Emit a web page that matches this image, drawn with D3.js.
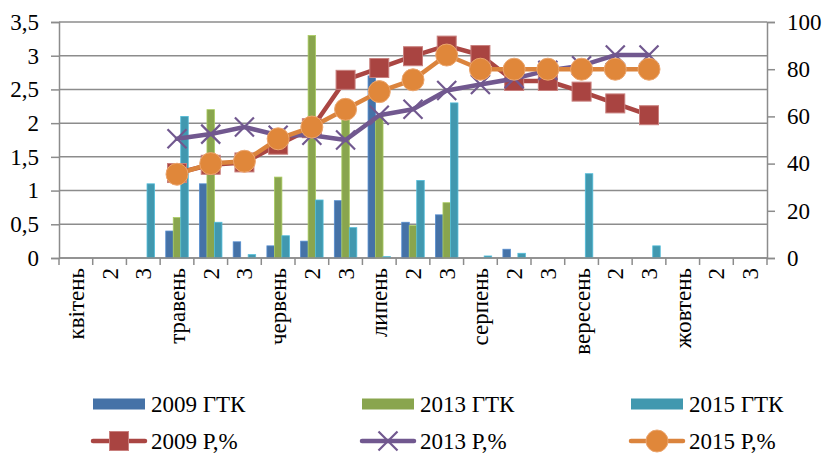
<!DOCTYPE html>
<html>
<head>
<meta charset="utf-8">
<script src="https://cdn.jsdelivr.net/npm/d3@7/dist/d3.min.js"></script>
<style>
  html, body { margin: 0; padding: 0; background: #fff; }
  svg { display: block; }
  text { font-family: "Liberation Serif", "Times New Roman", serif; fill: #000; }
</style>
</head>
<body>
<svg id="chart" width="826" height="453"></svg>
<script>
// Decade labels along the season (month name on the first decade)
const categories = ["квітень","2","3","травень","2","3","червень","2","3","липень","2","3",
                    "серпень","2","3","вересень","2","3","жовтень","2","3"];

// Hydrothermal coefficient (left axis)
const gtk2009 = [0,0,0, 0.4,1.1,0.24, 0.18,0.25,0.85, 2.7,0.53,0.64, 0,0.13,0, 0,0,0, 0,0,0];
const gtk2013 = [0,0,0, 0.6,2.2,0, 1.2,3.3,2.1, 2.1,0.48,0.82, 0,0,0, 0,0,0, 0,0,0];
const gtk2015 = [0,0,1.1, 2.1,0.53,0.05, 0.33,0.86,0.45, 0.02,1.15,2.3, 0.03,0.07,0, 1.25,0,0.18, 0,0,0];

// P, % (right axis)
const p2009 = [null,null,null, 36,39.5,40.5, 48,55,75.5, 80.5,85.5,90, 86,75,75, 70.5,65.5,60.5, null,null,null];
const p2013 = [null,null,null, 50.5,52.5,55.5, 52,52,50, 60.5,63,71, 73.5,76,79.5, 81.5,86,86, null,null,null];
const p2015 = [null,null,null, 35.5,40,41, 50.5,55.5,63, 70.5,75.5,86, 80,80,80, 80,80,80, null,null,null];

const leftTicks = [0,0.5,1,1.5,2,2.5,3,3.5];
const leftTickLabels = ["0","0,5","1","1,5","2","2,5","3","3,5"];
const rightTicks = [0,20,40,60,80,100];

const barSeries = [
  {name: "2009 ГТК", values: gtk2009, color: "#4572A7"},
  {name: "2013 ГТК", values: gtk2013, color: "#89A54E"},
  {name: "2015 ГТК", values: gtk2015, color: "#4198AF"}
];
const lineSeries = [
  {name: "2009 Р,%", values: p2009, color: "#AA4643", marker: "square", markerFill: "#A94441", markerStroke: "#C9807E"},
  {name: "2013 Р,%", values: p2013, color: "#71588F", marker: "x"},
  {name: "2015 Р,%", values: p2015, color: "#DB843D", marker: "circle", markerFill: "#E0873A", markerStroke: "#EBA56E"}
];

const FS = 23;
const svg = d3.select("#chart");
const plot = {left: 59, right: 767, top: 22, bottom: 258};
const gridColor = "#8c8c8c";

const idx = d3.range(categories.length);
const x = d3.scaleBand().domain(idx).range([plot.left, plot.right]).paddingInner(0).paddingOuter(0);
const xs = d3.scaleBand().domain(barSeries.map(d => d.name)).range([0, x.bandwidth()]).paddingInner(0).paddingOuter(0.75);
const yL = d3.scaleLinear().domain([0, 3.5]).range([plot.bottom, plot.top]);
const yR = d3.scaleLinear().domain([0, 100]).range([plot.bottom, plot.top]);

// horizontal gridlines
svg.append("g").selectAll("line").data(leftTicks).join("line")
  .attr("x1", plot.left).attr("x2", plot.right)
  .attr("y1", d => yL(d)).attr("y2", d => yL(d))
  .attr("stroke", gridColor).attr("stroke-width", 1.5);

// left axis
const axL = svg.append("g").attr("transform", `translate(${plot.left},0)`)
  .call(d3.axisLeft(yL).tickValues(leftTicks).tickFormat((d, i) => leftTickLabels[i]).tickSize(8).tickPadding(12));
axL.select(".domain").attr("stroke", gridColor).attr("stroke-width", 1.5);
axL.selectAll(".tick line").attr("stroke", gridColor).attr("stroke-width", 1.5);
axL.selectAll(".tick text").attr("font-size", FS).attr("font-family", "Liberation Serif");

// right axis
const axR = svg.append("g").attr("transform", `translate(${plot.right},0)`)
  .call(d3.axisRight(yR).tickValues(rightTicks).tickSize(8).tickPadding(12));
axR.select(".domain").attr("stroke", gridColor).attr("stroke-width", 1.5);
axR.selectAll(".tick line").attr("stroke", gridColor).attr("stroke-width", 1.5);
axR.selectAll(".tick text").attr("font-size", FS).attr("font-family", "Liberation Serif");

// bottom axis: tick marks between decades
const bounds = d3.range(categories.length + 1).map(i => plot.left + i * x.step());
svg.append("g").selectAll("line").data(bounds).join("line")
  .attr("x1", d => d).attr("x2", d => d)
  .attr("y1", plot.bottom).attr("y2", plot.bottom + 7)
  .attr("stroke", gridColor).attr("stroke-width", 1.5);

// category labels, rotated
svg.append("g").selectAll("text").data(idx).join("text")
  .attr("transform", d => `translate(${x(d) + x.bandwidth() / 2},${plot.bottom + 10}) rotate(-90)`)
  .attr("text-anchor", "end")
  .attr("dy", "0.35em")
  .attr("font-size", FS)
  .text(d => categories[d]);

// bars
barSeries.forEach(s => {
  svg.append("g").selectAll("rect").data(idx.filter(i => s.values[i] > 0)).join("rect")
    .attr("x", i => x(i) + xs(s.name))
    .attr("width", xs.bandwidth())
    .attr("y", i => yL(s.values[i]))
    .attr("height", i => yL(0) - yL(s.values[i]))
    .attr("fill", s.color)
    .attr("stroke", d3.color(s.color).brighter(0.6))
    .attr("stroke-width", 0.8);
});

// redraw baseline over bars
svg.append("line").attr("x1", plot.left).attr("x2", plot.right)
  .attr("y1", plot.bottom).attr("y2", plot.bottom)
  .attr("stroke", gridColor).attr("stroke-width", 1.5);

function drawMarker(g, type, cx, cy, s) {
  if (type === "square") {
    g.append("rect").attr("x", cx - 9.5).attr("y", cy - 9.5).attr("width", 19).attr("height", 19)
      .attr("fill", s.markerFill).attr("stroke", s.markerStroke).attr("stroke-width", 1);
  } else if (type === "circle") {
    g.append("circle").attr("cx", cx).attr("cy", cy).attr("r", 11)
      .attr("fill", s.markerFill).attr("stroke", s.markerStroke).attr("stroke-width", 1);
  } else {
    const r = 9.5;
    g.append("path")
      .attr("d", `M${cx - r},${cy - r}L${cx + r},${cy + r}M${cx - r},${cy + r}L${cx + r},${cy - r}`)
      .attr("stroke", s.color).attr("stroke-width", 2.2).attr("fill", "none");
  }
}

// lines with markers
const line = d3.line()
  .defined(d => d.v != null)
  .x(d => x(d.i) + x.bandwidth() / 2)
  .y(d => yR(d.v));

lineSeries.forEach(s => {
  const g = svg.append("g");
  const pts = idx.map(i => ({i, v: s.values[i]}));
  g.append("path").datum(pts).attr("d", line)
    .attr("fill", "none").attr("stroke", s.color).attr("stroke-width", 4.5)
    .attr("stroke-linejoin", "round").attr("stroke-linecap", "round");
  pts.filter(p => p.v != null).forEach(p => drawMarker(g, s.marker, x(p.i) + x.bandwidth() / 2, yR(p.v), s));
});

// legend
const legCols = [93, 362, 631];
const legRows = [404, 441];
barSeries.forEach((s, k) => {
  const g = svg.append("g");
  g.append("rect").attr("x", legCols[k]).attr("y", legRows[0] - 5.5).attr("width", 52).attr("height", 11).attr("fill", s.color);
  g.append("text").attr("x", legCols[k] + 58).attr("y", legRows[0]).attr("dy", "0.35em")
    .attr("font-size", FS).text(s.name);
});
lineSeries.forEach((s, k) => {
  const g = svg.append("g");
  g.append("line").attr("x1", legCols[k]).attr("x2", legCols[k] + 52)
    .attr("y1", legRows[1]).attr("y2", legRows[1])
    .attr("stroke", s.color).attr("stroke-width", 4.5).attr("stroke-linecap", "round");
  drawMarker(g, s.marker, legCols[k] + 26, legRows[1], s);
  g.append("text").attr("x", legCols[k] + 58).attr("y", legRows[1]).attr("dy", "0.35em")
    .attr("font-size", FS).text(s.name);
});
</script>
</body>
</html>
